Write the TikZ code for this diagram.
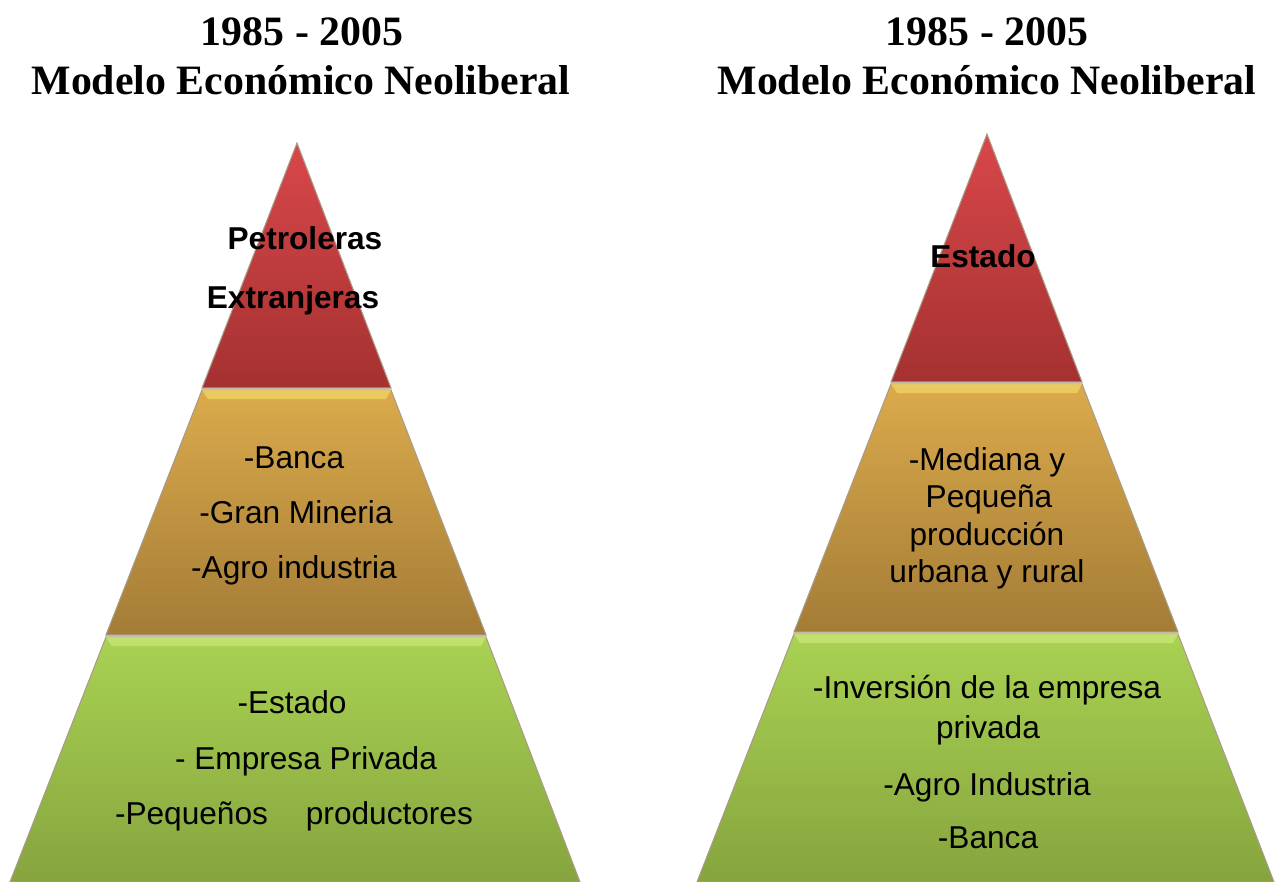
\documentclass[tikz,border=0pt]{standalone}
\usepackage{fontspec}
\setmainfont{Liberation Serif}
\newfontfamily\bodyfont{Liberation Sans}
\definecolor{redT}{HTML}{D8474A}
\definecolor{redB}{HTML}{A53131}
\definecolor{orT}{HTML}{DBAA4C}
\definecolor{orB}{HTML}{A37C36}
\definecolor{grT}{HTML}{A9D253}
\definecolor{grB}{HTML}{86A43E}
\definecolor{orHi}{HTML}{F2D866}
\definecolor{grHi}{HTML}{CBEA78}
\definecolor{edge}{HTML}{6E5A3A}
\begin{document}
\begin{tikzpicture}[x=0.02cm,y=-0.02cm,
  title/.style={font=\fontsize{23.8}{28}\selectfont\bfseries, anchor=base, inner sep=0},
  lbl/.style={font=\bodyfont\fontsize{18}{21}\selectfont, anchor=base, inner sep=0},
  blbl/.style={font=\bodyfont\fontsize{18}{21}\selectfont\bfseries, anchor=base, inner sep=0},
  layer/.style={draw=edge!60, line width=0.6pt},
  bevel/.style={fill opacity=0.7}]
\useasboundingbox (0,0) rectangle (1276,882);
\fill[white] (0,0) rectangle (1276,882);

% ---------- titles ----------
\node[title] (tl1) at (302,46) {1985 - 2005};
\node[title] (tl2) at (301,95) {Modelo Económico Neoliberal};
\node[title] (tr1) at (987,46) {1985 - 2005};
\node[title] (tr2) at (987,95) {Modelo Económico Neoliberal};

% ---------- left pyramid ----------
\shade[layer, top color=redT, bottom color=redB] (297,143) -- (391,388) -- (202,388) -- cycle;
\shade[layer, top color=orT, bottom color=orB] (202,390) -- (391,390) -- (486,635) -- (106,635) -- cycle;
\fill[orHi, bevel] (202,390) -- (391,390) -- (386,399) -- (208,399) -- cycle;
\shade[layer, top color=grT, bottom color=grB] (106,637) -- (486,637) -- (580,882) -- (10,882) -- cycle;
\fill[grHi, bevel] (106,637) -- (486,637) -- (481,646) -- (112,646) -- cycle;

% ---------- right pyramid ----------
\shade[layer, top color=redT, bottom color=redB] (987,134) -- (1082,382) -- (891,382) -- cycle;
\shade[layer, top color=orT, bottom color=orB] (891,384) -- (1082,384) -- (1178,632) -- (794,632) -- cycle;
\fill[orHi, bevel] (891,384) -- (1082,384) -- (1077,393) -- (897,393) -- cycle;
\shade[layer, top color=grT, bottom color=grB] (794,634) -- (1178,634) -- (1274,882) -- (697,882) -- cycle;
\fill[grHi, bevel] (794,634) -- (1178,634) -- (1173,643) -- (800,643) -- cycle;

% ---------- left labels ----------
\node[blbl] (lp1) at (305,250) {Petroleras};
\node[blbl] (lp2) at (293,309) {Extranjeras};

\node[lbl] (lo1) at (294,468) {-Banca};
\node[lbl] (lo2) at (296,523) {-Gran Mineria};
\node[lbl] (lo3) at (294,578) {-Agro industria};

\node[lbl] (lg1) at (292,713) {-Estado};
\node[lbl] (lg2) at (306,769) {- Empresa Privada};
\node[lbl] (lg3) at (294,824) {-Pequeños\hspace{1.2em}productores};

% ---------- right labels ----------
\node[blbl] (rp1) at (983,268) {Estado};

\node[lbl] (ro1) at (987,470) {-Mediana y};
\node[lbl] (ro2) at (989,507) {Pequeña};
\node[lbl] (ro3) at (987,545) {producción};
\node[lbl] (ro4) at (987,582) {urbana y rural};

\node[lbl] (rg1) at (987,698) {-Inversión de la empresa};
\node[lbl] (rg2) at (988,738) {privada};
\node[lbl] (rg3) at (987,795) {-Agro Industria};
\node[lbl] (rg4) at (988,848) {-Banca};
\end{tikzpicture}
\end{document}
